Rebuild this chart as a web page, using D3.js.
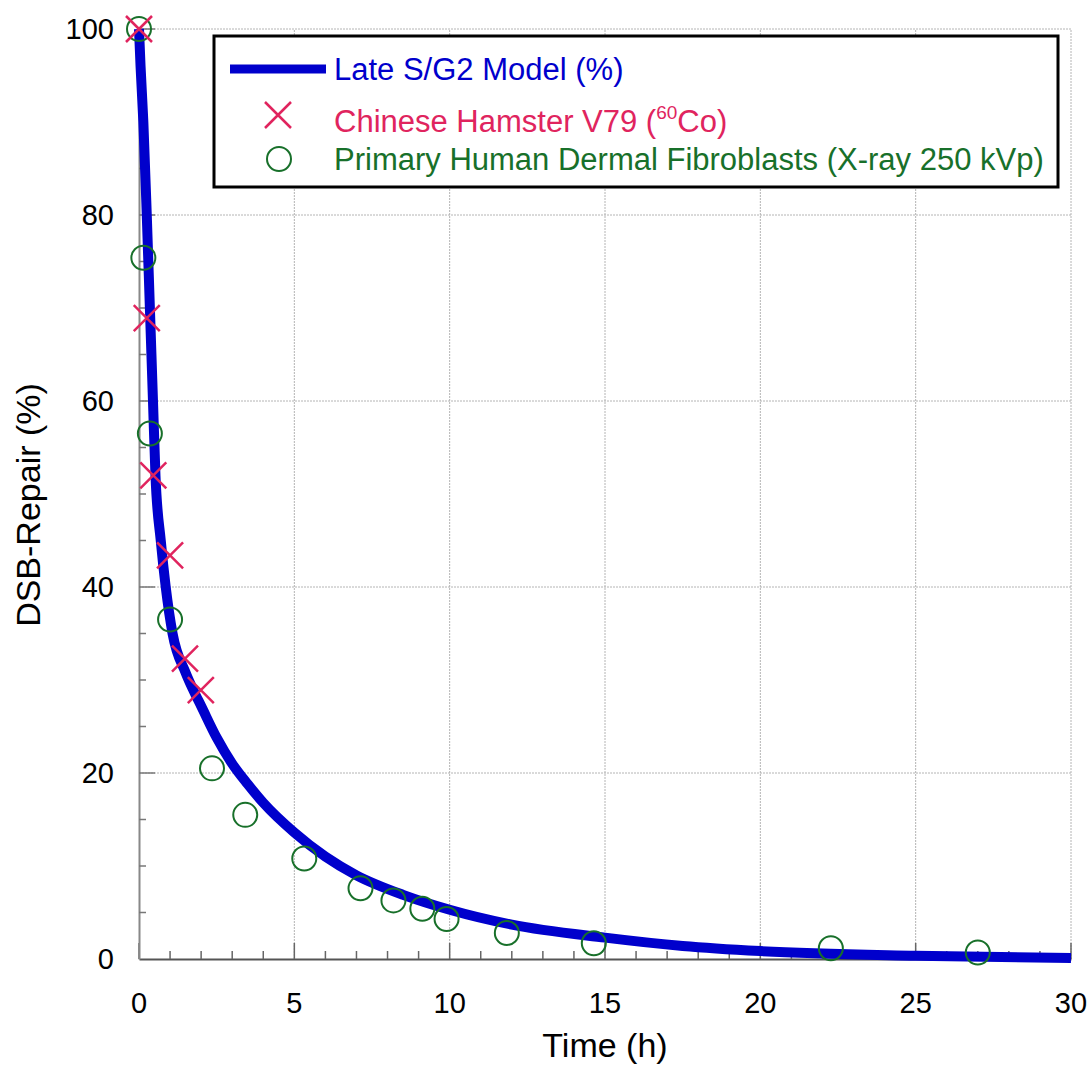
<!DOCTYPE html>
<html>
<head>
<meta charset="utf-8">
<script src="https://cdn.jsdelivr.net/npm/d3@7"></script>
<style>
  body { margin: 0; background: #fff; }
  text { font-family: "Liberation Sans", Arial, sans-serif; }
</style>
</head>
<body>
<script>
// model curve
var modelT = [0, 0.05, 0.14, 0.25, 0.35, 0.45, 0.53, 0.7, 0.86, 1.08, 1.5, 1.75, 2.0, 2.5, 3.0, 3.5, 4.0, 5.0, 6.0, 7.0, 8.5, 10, 12, 15, 17.5, 20, 25, 30];
var modelY = [100, 96, 90, 80, 70, 60, 52, 45, 40, 35, 30.8, 28.9, 27.2, 23.8, 21.0, 18.8, 16.8, 13.6, 11.0, 9.0, 6.9, 5.3, 3.7, 2.3, 1.4, 0.85, 0.35, 0.1];

// Chinese hamster V79 (60Co)
var hamsterT = [0, 0.25, 0.46, 1.0, 1.48, 1.99];
var hamsterY = [100, 68.9, 52.0, 43.4, 32.3, 28.9];

// primary human dermal fibroblasts
var fibroT = [0, 0.14, 0.35, 1.0, 2.35, 3.42, 5.32, 7.13, 8.19, 9.12, 9.9, 11.84, 14.64, 22.27, 27.0];
var fibroY = [100, 75.4, 56.5, 36.5, 20.5, 15.5, 10.8, 7.6, 6.3, 5.4, 4.3, 2.8, 1.7, 1.15, 0.7];

var xTicks = [0, 5, 10, 15, 20, 25, 30];
var yTicks = [0, 20, 40, 60, 80, 100];
var legendLabels = ["Late S/G2 Model (%)", "Chinese Hamster V79 (", "Primary Human Dermal Fibroblasts (X-ray 250 kVp)"];

var W = 1092, H = 1066;
var blue = "#0000cc", red = "#e0245e", green = "#18702a";

var svg = d3.select("body").append("svg").attr("width", W).attr("height", H);

var x = d3.scaleLinear().domain([0, 30]).range([139, 1071]);
var y = d3.scaleLinear().domain([0, 100]).range([959, 29]);

// grid
var grid = svg.append("g");
xTicks.slice(1).forEach(function(t) {
  grid.append("line").attr("x1", x(t)).attr("x2", x(t)).attr("y1", y(0)).attr("y2", y(100))
    .attr("stroke", "#b4b4b4").attr("stroke-width", 1).attr("stroke-dasharray", "2,1");
});
yTicks.slice(1).forEach(function(t) {
  grid.append("line").attr("x1", x(0)).attr("x2", x(30)).attr("y1", y(t)).attr("y2", y(t))
    .attr("stroke", "#b4b4b4").attr("stroke-width", 1).attr("stroke-dasharray", "2,1");
});

// axes
var xAxis = svg.append("g").attr("transform", "translate(0," + y(0) + ")")
  .call(d3.axisBottom(x).tickValues(d3.range(0, 31, 1)).tickSize(0).tickFormat(""));
xAxis.select(".domain").attr("stroke", "#555").attr("stroke-width", 2);
xAxis.selectAll(".tick line").remove();
d3.range(0, 31, 1).forEach(function(t) {
  var len = t % 5 === 0 ? 16 : 8;
  xAxis.append("line").attr("x1", x(t)).attr("x2", x(t)).attr("y1", 0).attr("y2", -len)
    .attr("stroke", "#666").attr("stroke-width", 1.5);
});
xTicks.forEach(function(t) {
  xAxis.append("text").attr("x", x(t)).attr("y", 54).attr("text-anchor", "middle")
    .attr("font-size", 29).attr("fill", "#000").text(t);
});

var yAxis = svg.append("g").attr("transform", "translate(" + x(0) + ",0)")
  .call(d3.axisLeft(y).tickValues(d3.range(0, 101, 5)).tickSize(0).tickFormat(""));
yAxis.select(".domain").attr("stroke", "#888").attr("stroke-width", 2);
yAxis.selectAll(".tick line").remove();
d3.range(5, 101, 5).forEach(function(t) {
  var len = t % 20 === 0 ? 16 : 7;
  yAxis.append("line").attr("x1", 0).attr("x2", len).attr("y1", y(t)).attr("y2", y(t))
    .attr("stroke", "#777").attr("stroke-width", 1.5);
});
yTicks.forEach(function(t) {
  yAxis.append("text").attr("x", -25).attr("y", y(t) + 10).attr("text-anchor", "end")
    .attr("font-size", 29).attr("fill", "#000").text(t);
});

// axis titles
svg.append("text").attr("x", 605).attr("y", 1057).attr("text-anchor", "middle")
  .attr("font-size", 34).text("Time (h)");
svg.append("text").attr("transform", "translate(40,505) rotate(-90)").attr("text-anchor", "middle")
  .attr("font-size", 34).text("DSB-Repair (%)");

// model line
var model = modelT.map(function(t, i) { return [t, modelY[i]]; });
var line = d3.line().x(function(d) { return x(d[0]); }).y(function(d) { return y(d[1]); })
  .curve(d3.curveMonotoneX);
svg.append("path").datum(model).attr("d", line).attr("fill", "none")
  .attr("stroke", blue).attr("stroke-width", 10);

// markers
function cross(g, cx, cy, s) {
  g.append("path").attr("d", "M" + (cx - s) + "," + (cy - s) + "L" + (cx + s) + "," + (cy + s) +
      "M" + (cx - s) + "," + (cy + s) + "L" + (cx + s) + "," + (cy - s))
    .attr("stroke", red).attr("stroke-width", 2.5).attr("fill", "none");
}
var marks = svg.append("g");
fibroT.forEach(function(t, i) {
  marks.append("circle").attr("cx", x(t)).attr("cy", y(fibroY[i])).attr("r", 12)
    .attr("fill", "none").attr("stroke", green).attr("stroke-width", 2);
});
hamsterT.forEach(function(t, i) {
  cross(marks, x(t), y(hamsterY[i]), 13);
});

// legend
var lg = svg.append("g");
lg.append("rect").attr("x", 214).attr("y", 36).attr("width", 844).attr("height", 151)
  .attr("fill", "#fff").attr("stroke", "#000").attr("stroke-width", 3);
lg.append("line").attr("x1", 230).attr("x2", 326).attr("y1", 69).attr("y2", 69)
  .attr("stroke", blue).attr("stroke-width", 9);
lg.append("text").attr("x", 334).attr("y", 80).attr("font-size", 31).attr("fill", blue).text(legendLabels[0]);
cross(lg, 278, 115, 13);
var t2 = lg.append("text").attr("x", 334).attr("y", 132).attr("font-size", 31).attr("fill", red);
t2.append("tspan").text(legendLabels[1]);
t2.append("tspan").attr("font-size", 19).attr("dy", -13).text("60");
t2.append("tspan").attr("dy", 13).text("Co)");
lg.append("circle").attr("cx", 279).attr("cy", 159).attr("r", 12)
  .attr("fill", "none").attr("stroke", green).attr("stroke-width", 2);
lg.append("text").attr("x", 334).attr("y", 170).attr("font-size", 31).attr("fill", green).text(legendLabels[2]);
</script>
</body>
</html>
